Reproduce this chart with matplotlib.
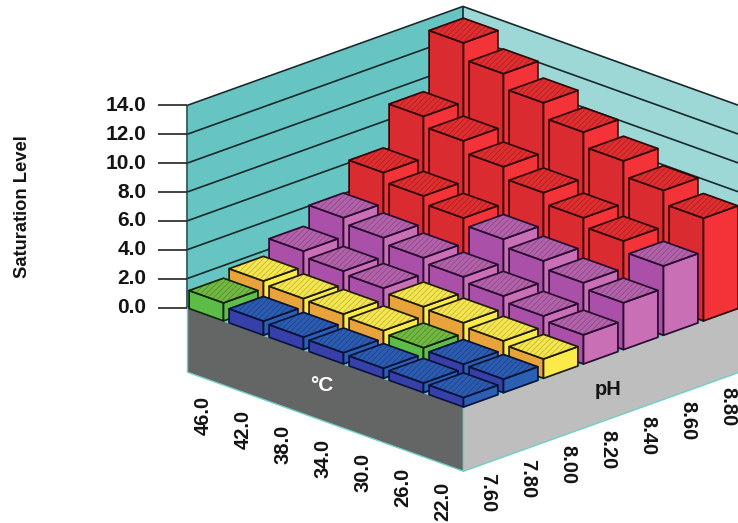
import numpy as np
import matplotlib
matplotlib.use("Agg")
import matplotlib.pyplot as plt
from mpl_toolkits.mplot3d import proj3d
from mpl_toolkits.mplot3d.art3d import Poly3DCollection

# ---- data ----
temps = ["46.0", "42.0", "38.0", "34.0", "30.0", "26.0", "22.0"]
ph_levels = ["7.60", "7.80", "8.00", "8.20", "8.40", "8.60", "8.80"]
z_ticks = [0, 2, 4, 6, 8, 10, 12, 14]

sat_ph760 = [1.25, 0.98, 0.87, 0.78, 0.70, 0.67, 0.66]
sat_ph780 = [1.77, 1.55, 1.47, 1.32, 1.13, 0.98, 0.94]
sat_ph800 = [2.85, 2.46, 2.27, 1.98, 1.86, 1.60, 1.34]
sat_ph820 = [4.17, 3.78, 3.38, 3.05, 2.72, 2.33, 2.02]
sat_ph840 = [6.30, 5.67, 5.14, 4.67, 4.16, 3.64, 3.25]
sat_ph860 = [9.20, 8.50, 7.70, 6.90, 6.15, 5.54, 4.80]
sat_ph880 = [13.30, 12.16, 11.14, 10.10, 9.10, 8.05, 7.12]
saturation = [sat_ph760, sat_ph780, sat_ph800, sat_ph820,
              sat_ph840, sat_ph860, sat_ph880]

band_limits = [1.0, 1.3, 2.0, 5.0]
# (top, hatch, left face, right face, edge)
band_styles = [
    ("#2C5CB0", "#1B3F86", "#3640A8", "#2B5FB4", "#0A1238"),
    ("#72B842", "#4E8A2C", "#5DBB48", "#62BE4C", "#10240C"),
    ("#F4E552", "#C2B02A", "#E8A43A", "#FCE94A", "#201C08"),
    ("#B262A8", "#8A4488", "#AA50A8", "#C86FB6", "#2A0C30"),
    ("#DE2E30", "#A81E20", "#DA2B30", "#F33338", "#320808"),
]

W, H, DPI = 738, 523, 100
plt.rcParams["font.family"] = ["Liberation Sans", "DejaVu Sans"]
plt.rcParams["font.weight"] = "bold"
plt.rcParams["hatch.linewidth"] = 0.5

SPAN = 6.9      # floor length in cell units
BAR = 0.86      # bar width in cell units
ZMAX = 14
BLOCK = 4.45    # depth of the base block in value units

fig = plt.figure(figsize=(W / DPI, H / DPI), dpi=DPI, facecolor="white")
ax = fig.add_axes([0, 0, 1, 1], projection="3d", proj_type="ortho",
                  computed_zorder=False)
ax.set_axis_off()
ax.patch.set_alpha(0)
ax.set_xlim(0, SPAN)
ax.set_ylim(0, SPAN)
ax.set_zlim(0, ZMAX)
ax.set_box_aspect((SPAN, SPAN, ZMAX * 0.2733))
ax.view_init(elev=21.03, azim=-45)


def to_px(x, y, z):
    px, py, _ = proj3d.proj_transform(x, y, z, ax.get_proj())
    return ax.transData.transform((px, py))


# fit the axes so that the floor falls where the reference has it
size = 600.0
for _ in range(3):
    ax.set_position([0, 0, size / W, size / H])
    ax.apply_aspect()
    a, b = to_px(0, 0, 0), to_px(SPAN, 0, 0)
    size *= 276.0 / (b[0] - a[0])
ax.set_position([0, 0, size / W, size / H])
ax.apply_aspect()
a = to_px(0, 0, 0)
left = (187.0 - a[0]) / W
bottom = ((H - 307.5) - a[1]) / H
ax.set_position([left, bottom, size / W, size / H])
ax.apply_aspect()

order = [0]
CLEAR = (0, 0, 0, 0)


def face(verts, fc, ec, lw=1.25, hatch=None):
    order[0] += 1
    poly = Poly3DCollection([verts], facecolors=fc, edgecolors=ec,
                            linewidths=lw, zorder=order[0], hatch=hatch,
                            clip_on=False)
    ax.add_collection3d(poly)
    return poly


def line(xs, ys, zs, color="#16282A", lw=1.2):
    order[0] += 1
    ax.plot(xs, ys, zs, color=color, lw=lw, zorder=order[0],
            solid_capstyle="butt", clip_on=False)


def label(x, y, z, s, **kw):
    p = to_px(x, y, z)
    fig.text(p[0] / W, p[1] / H, s, **kw)


WALL_L, WALL_R = "#66C4C2", "#9DD8D6"
RIM = "#6FD0C8"
INK = "#141414"

# walls and floor
face([(0, 0, 0), (0, SPAN, 0), (SPAN, SPAN, 0), (SPAN, 0, 0)], WALL_L, WALL_L, 0)
face([(0, 0, 0), (0, SPAN, 0), (0, SPAN, ZMAX), (0, 0, ZMAX)], WALL_L, WALL_L, 0)
face([(0, SPAN, 0), (SPAN, SPAN, 0), (SPAN, SPAN, ZMAX), (0, SPAN, ZMAX)],
     WALL_R, WALL_R, 0)
for z in z_ticks:
    line([0, 0, SPAN], [0, SPAN, SPAN], [z, z, z])
line([0, 0], [SPAN, SPAN], [0, ZMAX])
line([0, 0], [0, 0], [0, ZMAX], color="#2A4A4A")

# base block
face([(0, 0, 0), (SPAN, 0, 0), (SPAN, 0, -BLOCK), (0, 0, -BLOCK)],
     "#646565", RIM, 1.0)
face([(SPAN, 0, 0), (SPAN, SPAN, 0), (SPAN, SPAN, -BLOCK), (SPAN, 0, -BLOCK)],
     "#BEBEBE", RIM, 1.0)

# bars, back to front
cells = [(i, j) for j in range(7) for i in range(7)]
cells.sort(key=lambda c: c[0] - c[1])
for i, j in cells:
    h = saturation[j][i]
    top, stripe, lf, rf, ec = band_styles[int(np.searchsorted(band_limits, h))]
    x1 = i + 0.9
    x0 = x1 - BAR
    y0 = j
    y1 = y0 + BAR
    face([(x0, y0, 0), (x1, y0, 0), (x1, y0, h), (x0, y0, h)], lf, ec)
    face([(x1, y0, 0), (x1, y1, 0), (x1, y1, h), (x1, y0, h)], rf, ec)
    lid = [(x0, y0, h), (x1, y0, h), (x1, y1, h), (x0, y1, h)]
    face(lid, top, stripe, 0, hatch="//////")
    face(lid, CLEAR, ec)

# value axis
for z in z_ticks:
    line([0, -0.3625], [0, -0.3625], [z, z], color="#222222")
    label(-0.51, -0.51, z, f"{z:.1f}", ha="right", va="center",
          fontsize=15, color=INK)

# category tick labels
for i, t in enumerate(temps):
    label(i + 0.4, 0, -BLOCK - 2.62, t, rotation=90, ha="center",
          va="center", fontsize=14.5, color=INK)
for j, p in enumerate(ph_levels):
    label(SPAN, j + 0.62, -BLOCK - 2.15, p, rotation=270, ha="center",
          va="center", fontsize=14.5, color=INK)

# axis titles
label(3.37, 0, -2.05, "°C", ha="center", va="center", fontsize=15,
      color="white")
label(SPAN, 3.625, -2.43, "pH", ha="center", va="center", fontsize=14.4,
      color=INK)
fig.text(23 / W, 1 - 207 / H, "Saturation Level", rotation=90, ha="center",
         va="center", fontsize=13.2, color=INK)

fig.savefig("out.png", dpi=DPI, facecolor="white")
